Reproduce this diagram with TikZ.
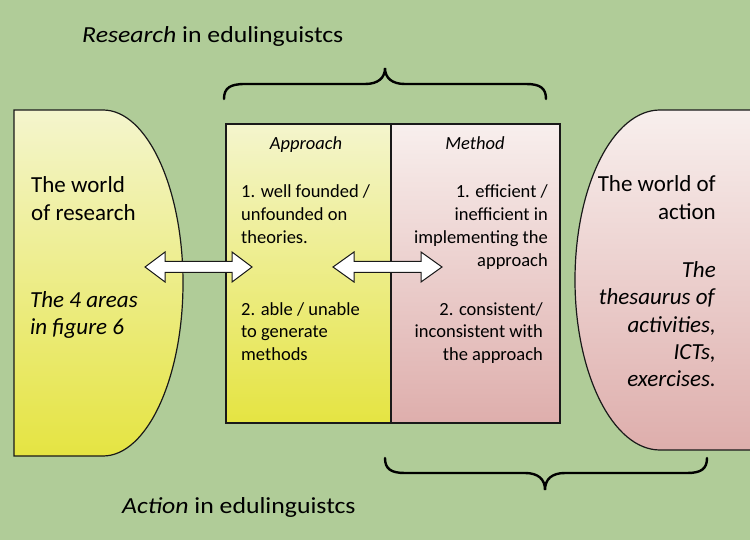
\documentclass[tikz,border=0pt]{standalone}
\usepackage{fontspec}
\setmainfont{Carlito}
\newfontfamily\titlefont{Carlito}[FakeStretch=1.12]
\definecolor{bggreen}{RGB}{176,204,152}
\definecolor{ytop}{RGB}{244,245,205}
\definecolor{ybot}{RGB}{229,228,66}
\definecolor{ptop}{RGB}{248,239,237}
\definecolor{pbot}{RGB}{222,174,172}
\definecolor{outline}{RGB}{25,25,25}
\begin{document}
\begin{tikzpicture}[x=1pt,y=-1pt,
  shapeline/.style={draw=outline,line width=1.2pt},
  ybox/.style={shapeline,top color=ytop,bottom color=ybot},
  pbox/.style={shapeline,top color=ptop,bottom color=pbot},
  blockarrow/.style={draw=outline,fill=white,line width=1pt,line join=miter},
  bracestyle/.style={draw=black,line width=2.4pt,line cap=round},
  titletxt/.style={inner sep=0pt,font=\titlefont\fontsize{23}{28}\selectfont},
  bigtxt/.style={inner sep=0pt,font=\fontsize{23}{28}\selectfont},
  smalltxt/.style={inner sep=0pt,font=\fontsize{18.5}{23}\selectfont}]
\useasboundingbox (0,0) rectangle (750,540);
\clip (0,0) rectangle (750,540);
\fill[bggreen] (0,0) rectangle (750,540);

% left D shape
\path[ybox] (14,110) -- (103,110) .. controls (147,110) and (183,188) .. (183,283)
  .. controls (183,378) and (147,456) .. (103,456) -- (14,456) -- cycle;
% right D shape
\path[pbox] (770,110) -- (660,110) .. controls (613,110) and (575,186) .. (575,280)
  .. controls (575,374) and (613,450) .. (660,450) -- (770,450) -- cycle;

% middle boxes
\node[ybox,inner sep=0pt,minimum width=165pt,minimum height=299pt] (appr) at (308.5,273.5) {};
\node[pbox,inner sep=0pt,minimum width=169pt,minimum height=299pt] (meth) at (475.5,273.5) {};

% braces
\draw[bracestyle] (224,99) .. controls (224,88) and (230,84) .. (245,84) -- (365,84)
  .. controls (378,84) and (385,78) .. (385,68) .. controls (385,78) and (392,84) .. (405,84)
  -- (526,84) .. controls (540,84) and (546,88) .. (546,99);
\draw[bracestyle] (385,458) .. controls (385,469) and (391,473) .. (405,473) -- (525,473)
  .. controls (538,473) and (545,479) .. (545,490) .. controls (545,479) and (552,473) .. (565,473)
  -- (687,473) .. controls (701,473) and (707,469) .. (707,458);

% block arrows
\path[blockarrow] (145,267) -- (165,252) -- (165,261.5) -- (232,261.5) -- (232,252) -- (252,267)
  -- (232,282) -- (232,272.5) -- (165,272.5) -- (165,282) -- cycle;
\path[blockarrow] (333,267) -- (354,252) -- (354,261.5) -- (421,261.5) -- (421,252) -- (442,267)
  -- (421,282) -- (421,272.5) -- (354,272.5) -- (354,282) -- cycle;

% titles
\node[titletxt,anchor=base west] (ttop) at (82,43) {\textit{Research} in edulinguistcs};
\node[titletxt,anchor=base west] (tbot) at (122,513) {\textit{Action} in edulinguistcs};

% left shape text
\node[bigtxt,anchor=base west,text width=140pt,align=flush left] (lw1) at (31,193) {The world\\of research};
\node[bigtxt,anchor=base west,text width=140pt,align=flush left] (lw2) at (30,307) {\textit{The 4 areas}\\\textit{in figure 6}};

% approach text
\node[smalltxt,anchor=base] (ah) at (306,150) {\textit{Approach}};
\node[smalltxt,anchor=base west,text width=150pt,align=flush left] (a1) at (241,198) {1. well founded /\\unfounded on\\theories.};
\node[smalltxt,anchor=base west,text width=150pt,align=flush left] (a2) at (241,315) {2. able / unable\\to generate\\methods};

% method text
\node[smalltxt,anchor=base] (mh) at (475,150) {\textit{Method}};
\node[smalltxt,anchor=base east,text width=150pt,align=flush right] (m1) at (548,198) {1. efficient /\\inefficient in\\implementing the\\approach};
\node[smalltxt,anchor=base east,text width=150pt,align=flush right] (m2) at (543,315) {2. consistent/\\inconsistent with\\the approach};

% right shape text
\node[bigtxt,anchor=base east,text width=140pt,align=flush right] (rw1) at (716,192) {The world of\\action};
\node[inner sep=0pt,font=\fontsize{23}{27.5}\selectfont,anchor=base east,text width=140pt,align=flush right] (rw2) at (716,277)
  {\textit{The}\\\textit{thesaurus of}\\\textit{activities,}\\\textit{ICTs,}\\\textit{exercises.}};
\end{tikzpicture}
\end{document}
